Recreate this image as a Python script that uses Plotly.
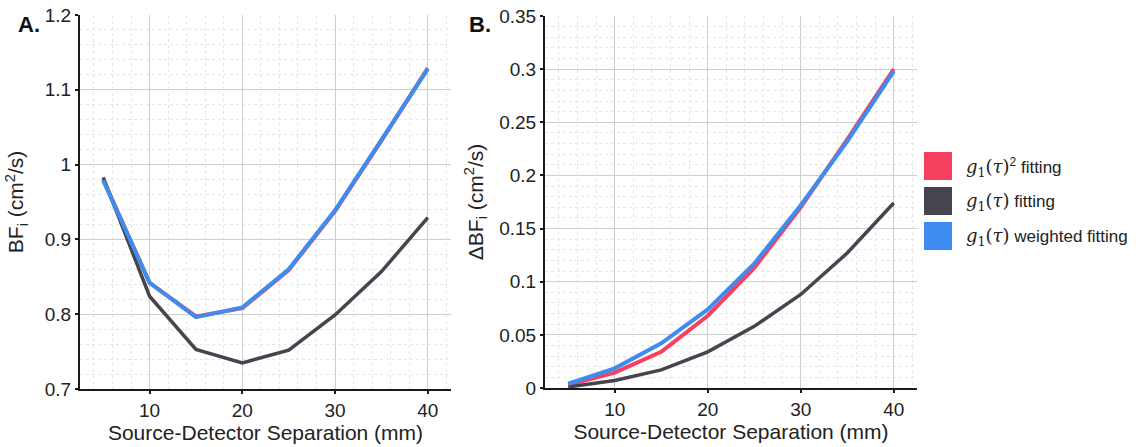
import plotly.graph_objects as go

sep_mm = [5, 10, 15, 20, 25, 30, 35, 40]

# Panel A: BF_i (cm^2/s)
bf_sq = [0.980, 0.842, 0.797, 0.808, 0.859, 0.938, 1.032, 1.129]
bf_g1 = [0.983, 0.824, 0.753, 0.735, 0.752, 0.799, 0.857, 0.929]
bf_w = [0.979, 0.842, 0.796, 0.809, 0.860, 0.939, 1.033, 1.128]

# Panel B: delta BF_i (cm^2/s)
dbf_sq = [0.003, 0.0145, 0.034, 0.068, 0.113, 0.170, 0.234, 0.300]
dbf_g1 = [0.001, 0.007, 0.017, 0.034, 0.058, 0.088, 0.127, 0.174]
dbf_w = [0.004, 0.0185, 0.042, 0.074, 0.117, 0.172, 0.232, 0.298]

MATH = "font-family:'DejaVu Serif','Liberation Serif',serif;font-size:18px"
g1 = ("<span style=\"%s\"><i>g</i><sub>1</sub>(<i>τ</i>)</span>" % MATH)
series_names = [
    g1 + "<sup>2</sup> fitting",
    g1 + " fitting",
    g1 + " weighted fitting",
]
colors = ["#F5405F", "#45444F", "#3D8CF0"]
widths = [4, 3.5, 4]

W, H = 1147, 447
FONT = "Liberation Sans, Arial, sans-serif"

fig = go.Figure()

panels = [
    ("x", "y", [bf_sq, bf_g1, bf_w]),
    ("x2", "y2", [dbf_sq, dbf_g1, dbf_w]),
]
for xa, ya, data in panels:
    for vals, c, w, nm in zip(data, colors, widths, series_names):
        fig.add_trace(go.Scatter(x=sep_mm, y=vals, mode="lines", name=nm,
                                 line=dict(color=c, width=w),
                                 xaxis=xa, yaxis=ya, showlegend=False))

def px_x(p):
    return p / W

def px_y(p):
    return 1 - p / H

axis_common = dict(
    showline=True, linecolor="#1a1a1a", linewidth=2,
    ticks="outside", ticklen=3, tickwidth=1.5, tickcolor="#1a1a1a",
    showgrid=True, gridcolor="#cfcfcf", gridwidth=1,
    zeroline=False, mirror=False, automargin=False,
    ticklabeloverflow="allow",
    tickfont=dict(family=FONT, size=19, color="#222222"),
)

xa_common = dict(axis_common, range=[2.5, 42.5], tick0=0, dtick=10,
                 minor=dict(dtick=2, showgrid=True, gridcolor="#e6e6e6",
                            griddash="dot", gridwidth=1),
                 title=dict(text="Source-Detector Separation (mm)",
                            font=dict(family=FONT, size=21, color="#222222"),
                            standoff=6))

fig.update_layout(
    width=W, height=H,
    margin=dict(l=0, r=0, t=0, b=0),
    paper_bgcolor="white", plot_bgcolor="white",
    showlegend=False,
    xaxis=dict(xa_common, domain=[px_x(80), px_x(451)], anchor="y"),
    yaxis=dict(axis_common, domain=[px_y(389), px_y(15)], anchor="x",
               range=[0.7, 1.2], dtick=0.1, tick0=0.7,
               minor=dict(dtick=0.02, showgrid=True, gridcolor="#e6e6e6",
                          griddash="dot", gridwidth=1),
               title=dict(text="BF<sub>i</sub> (cm<sup>2</sup>/s)",
                          font=dict(family=FONT, size=21, color="#222222"),
                          standoff=15)),
    xaxis2=dict(xa_common, domain=[px_x(545), px_x(917)], anchor="y2"),
    yaxis2=dict(axis_common, domain=[px_y(388), px_y(16)], anchor="x2",
                range=[0, 0.35], dtick=0.05, tick0=0,
                minor=dict(dtick=0.01, showgrid=True, gridcolor="#e6e6e6",
                           griddash="dot", gridwidth=1),
                title=dict(text="ΔBF<sub>i</sub> (cm<sup>2</sup>/s)",
                           font=dict(family=FONT, size=21, color="#222222"),
                           standoff=10)),
)

# panel labels
for lab, xp in [("A.", 16), ("B.", 467)]:
    fig.add_annotation(text="<b>%s</b>" % lab, xref="paper", yref="paper",
                       x=px_x(xp), y=px_y(25), xanchor="left", yanchor="middle",
                       showarrow=False,
                       font=dict(family=FONT, size=22, color="#111111"))

# manual legend with square swatches
sw_left, sw_size, top0, step = 924, 28, 152, 35
for i, (nm, c) in enumerate(zip(series_names, colors)):
    t = top0 + i * step
    fig.add_shape(type="rect", xref="paper", yref="paper",
                  x0=px_x(sw_left), x1=px_x(sw_left + sw_size),
                  y0=px_y(t + sw_size), y1=px_y(t),
                  fillcolor=c, line=dict(width=0))
    fig.add_annotation(text=nm, xref="paper", yref="paper",
                       x=px_x(964), y=px_y(t + sw_size / 2 + 1),
                       xanchor="left", yanchor="middle", showarrow=False,
                       font=dict(family=FONT, size=17, color="#222222"))

fig.write_html("out.html",
               config={"displayModeBar": False},
               post_script="document.body.style.margin='0';")
